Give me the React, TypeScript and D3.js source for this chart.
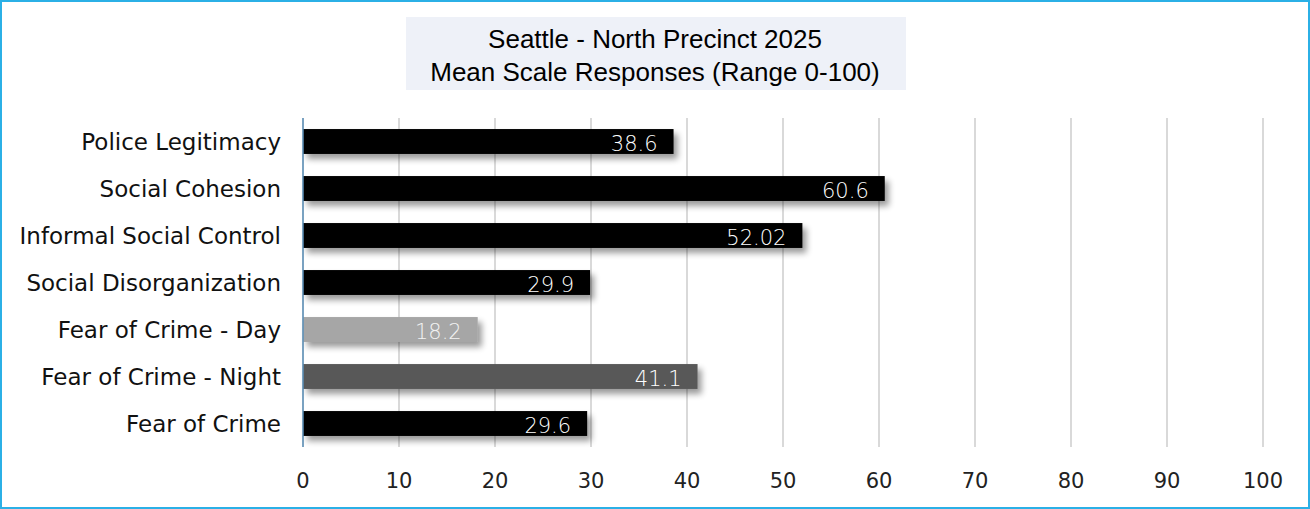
import * as d3 from 'd3';

const categories = [
  'Police Legitimacy',
  'Social Cohesion',
  'Informal Social Control',
  'Social Disorganization',
  'Fear of Crime - Day',
  'Fear of Crime - Night',
  'Fear of Crime',
];
const values = [38.6, 60.6, 52.02, 29.9, 18.2, 41.1, 29.6];
const barColors = ['#000000', '#000000', '#000000', '#000000', '#a6a6a6', '#595959', '#000000'];
const ticks = [0, 10, 20, 30, 40, 50, 60, 70, 80, 90, 100];
const titleLines = ['Seattle - North Precinct 2025', 'Mean Scale Responses (Range 0-100)'];

const W = 1310;
const H = 509;
const labelFont = '"DejaVu Sans", sans-serif';

export default function App() {
  const x = d3.scaleLinear().domain([0, 100]).range([303, 1263]);
  const y = d3.scaleBand().domain(categories).range([118, 447]).paddingInner(0.47).paddingOuter(0.235);

  return (
    <>
      <style>{`body{margin:0}`}</style>
      <svg width={W} height={H} style={{ display: 'block' }}>
        <defs>
          <filter id="shadow" x="-5%" y="-40%" width="115%" height="200%">
            <feGaussianBlur in="SourceAlpha" stdDeviation="3" />
            <feOffset dx="4" dy="5" result="blur" />
            <feComponentTransfer>
              <feFuncA type="linear" slope="0.4" />
            </feComponentTransfer>
            <feMerge>
              <feMergeNode />
              <feMergeNode in="SourceGraphic" />
            </feMerge>
          </filter>
        </defs>
        <rect x={0} y={0} width={W} height={H} fill="#fff" />
        <rect x={1} y={1} width={W - 2} height={H - 2} fill="none" stroke="#2bb0e6" strokeWidth={2} />

        {/* title */}
        <rect x={406} y={17} width={500} height={73} fill="#eef1f8" />
        {titleLines.map((t, i) => (
          <text
            key={t}
            x={655}
            y={48 + i * 33}
            textAnchor="middle"
            fontFamily='"Liberation Sans", Arial, sans-serif'
            fontSize={26}
            fill="#000"
          >
            {t}
          </text>
        ))}

        {/* gridlines */}
        {ticks.map((t) => (
          <line key={t} x1={x(t)} x2={x(t)} y1={118} y2={447} stroke="#d9d9d9" strokeWidth={2} />
        ))}

        {/* bars */}
        {categories.map((c, i) => (
          <rect
            key={c}
            x={x(0)}
            y={y(c)}
            width={x(values[i]) - x(0)}
            height={y.bandwidth()}
            fill={barColors[i]}
            filter="url(#shadow)"
          />
        ))}

        <line x1={x(0)} x2={x(0)} y1={118} y2={447} stroke="#5a8fb8" strokeWidth={1.5} />

        {/* value labels */}
        {categories.map((c, i) => (
          <text
            key={c}
            x={x(values[i]) - 16}
            y={(y(c) ?? 0) + y.bandwidth() / 2 + 9}
            textAnchor="end"
            fontFamily={labelFont}
            fontSize={21}
            fontWeight={300}
            fill={i === 4 ? '#f2f2f2' : '#ffffff'}
          >
            {values[i]}
          </text>
        ))}

        {/* category labels */}
        {categories.map((c) => (
          <text
            key={c}
            x={281}
            y={(y(c) ?? 0) + y.bandwidth() / 2 + 8.5}
            textAnchor="end"
            fontFamily={labelFont}
            fontSize={23}
            fill="#111"
          >
            {c}
          </text>
        ))}

        {/* tick labels */}
        {ticks.map((t) => (
          <text
            key={t}
            x={x(t)}
            y={488}
            textAnchor="middle"
            fontFamily={labelFont}
            fontSize={21}
            fill="#222"
          >
            {t}
          </text>
        ))}
      </svg>
    </>
  );
}
